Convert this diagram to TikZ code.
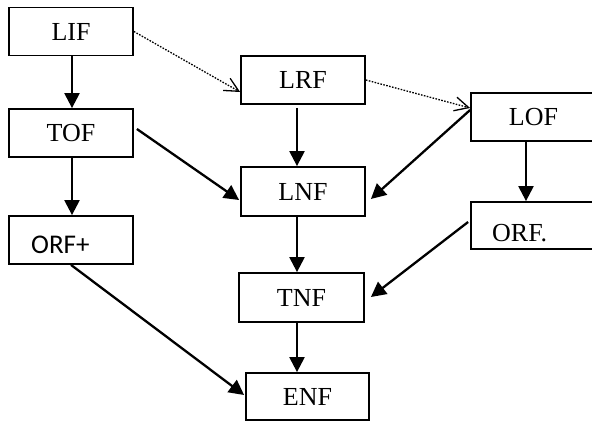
\documentclass[tikz,border=0pt]{standalone}
\usepackage{fontspec}
\setmainfont{Liberation Serif}
\newfontfamily\carlito{Carlito}
\usetikzlibrary{arrows.meta,calc}
\tikzset{
  box/.style={draw, line width=1.8pt, minimum width=124pt, minimum height=48pt, inner sep=0pt, font=\fontsize{26}{30}\selectfont},
  solidarr/.style={line width=2.3pt, -{Triangle[length=15pt,width=15pt]}},
  dotarr/.style={line width=1.3pt, dash pattern=on 1.6pt off 1.4pt, -{Straight Barb[length=14pt,width=14pt,line width=1.3pt]}},
  lbl/.style={anchor=base west, inner sep=0pt}
}
\begin{document}
\begin{tikzpicture}[x=1pt,y=-1pt]
\useasboundingbox (0,0) rectangle (592,421);
% boxes
\node[box] (LIF) at (71,31.5) {LIF};
\node[box] (TOF) at (71,133) {TOF};
\node[box] (ORFp) at (71,240) {};
\node[lbl, font=\carlito\fontsize{27}{30}\selectfont] (ORFpt) at (31,253) {ORF+};
\node[box] (LRF) at (303,80) {LRF};
\node[box, minimum height=49pt] (LNF) at (303,191.5) {LNF};
\node[box, minimum width=125pt, minimum height=49pt] (TNF) at (301.5,297.5) {TNF};
\node[box, minimum width=123pt, minimum height=47pt] (ENF) at (307.5,396.5) {ENF};
\node[box, minimum width=125pt] (LOF) at (533.5,117) {LOF};
\node[box, minimum width=125pt, minimum height=47pt] (ORFd) at (533.5,225.5) {};
\node[lbl, font=\fontsize{26}{30}\selectfont] (ORFdt) at (492,241) {ORF.};
% dotted arrows
\draw[dotarr] (LIF.east) -- ($(LRF.west)+(0,12)$);
\draw[dotarr] (LRF.east) -- ($(LOF.west)+(0,-9)$);
% solid arrows
\draw[solidarr] ($(LIF.south)+(1,0)$) -- ($(TOF.north)+(1,0)$);
\draw[solidarr] ($(TOF.south)+(1,0)$) -- ($(ORFp.north)+(1,0)$);
\draw[solidarr] ($(LRF.south)+(-6,3)$) -- ($(LNF.north)+(-6,0)$);
\draw[solidarr] ($(LNF.south)+(-6,0)$) -- ($(TNF.north)+(-4.5,0)$);
\draw[solidarr] ($(TNF.south)+(-4.5,0)$) -- ($(ENF.north)+(-10.5,0)$);
\draw[solidarr] ($(LOF.south)+(-7.5,0)$) -- ($(ORFd.north)+(-7.5,0)$);
\draw[solidarr] ($(TOF.east)+(3,-4)$) -- ($(LNF.west)+(-1,8.5)$);
\draw[solidarr] ($(LOF.west)+(0,-7)$) -- ($(LNF.east)+(5,7.5)$);
\draw[solidarr] ($(ORFd.west)+(-2,-3.5)$) -- ($(TNF.east)+(6,-0.5)$);
\draw[solidarr] (ORFp.south) -- ($(ENF.west)+(-1,-1.5)$);
\end{tikzpicture}
\end{document}
